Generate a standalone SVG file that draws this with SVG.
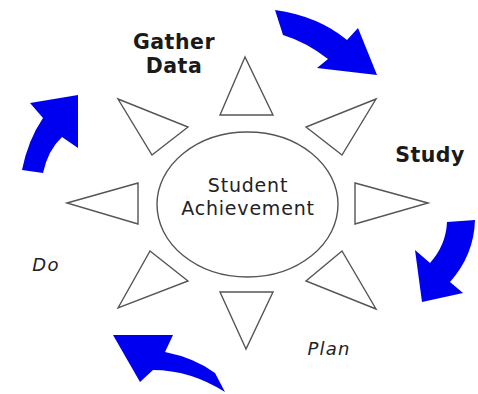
<svg xmlns="http://www.w3.org/2000/svg" width="478" height="394" viewBox="0 0 478 394">
<style>
.tri{fill:#fff;stroke:#555;stroke-width:1.4;stroke-linejoin:miter}
.arr{fill:#0000f0;stroke:none}
.lbl{font-family:"DejaVu Sans",Verdana,sans-serif;font-weight:bold;font-size:20.5px;fill:#1a1a1a;text-anchor:middle;letter-spacing:0.5px}
.ctr{font-family:"DejaVu Sans",Verdana,sans-serif;font-size:19px;fill:#222;text-anchor:middle;letter-spacing:0.8px}
.it{font-family:"DejaVu Sans",Verdana,sans-serif;font-style:italic;font-size:18px;fill:#222;text-anchor:middle;letter-spacing:1.2px}
</style>
<rect width="478" height="394" fill="#fff"/>
<g id="center">
<ellipse cx="247.5" cy="204.5" rx="90.5" ry="72.5" fill="#fff" stroke="#555" stroke-width="1.4"/>
<text class="ctr" x="248" y="192">Student</text>
<text class="ctr" x="248" y="215">Achievement</text>
</g>
<g id="rays">
<polygon class="tri" points="245,57 220,115 273,115"/>
<polygon class="tri" points="376,99 306,127 342,155"/>
<polygon class="tri" points="428,203 355,183 355,224"/>
<polygon class="tri" points="376,309 306,281 342,251"/>
<polygon class="tri" points="246,349 220,292 273,292"/>
<polygon class="tri" points="118,308 150,251 188,281"/>
<polygon class="tri" points="67,203 138,183 138,224"/>
<polygon class="tri" points="118,99 188,127 152,155"/>
</g>
<g id="connectors">
<path class="arr" d="M275,10 Q318,16 347,40 L358,28 L377,75 L317,68 L328,59 Q306,42 283,35 Z"/>
<path class="arr" d="M447,222 L475,220 Q474,255 450,282 L463,293 L422,302 L415,250 L430,263 Q446,245 447,222 Z"/>
<path class="arr" d="M113,335 L173,335 L165,352 Q195,358 215,373 L225,392 Q190,370 153,370 L140,382 Z"/>
<path class="arr" d="M78,95 L78,148 L62,137 Q48,150 43,173 L22,170 Q28,140 43,118 L30,103 Z"/>
</g>
<g id="gather"><text class="lbl" x="174" y="49">Gather</text><text class="lbl" x="174" y="73">Data</text></g>
<g id="study"><text class="lbl" x="430" y="162">Study</text></g>
<g id="plan"><text class="it" x="329" y="355">Plan</text></g>
<g id="do"><text class="it" x="46" y="271">Do</text></g>
</svg>
